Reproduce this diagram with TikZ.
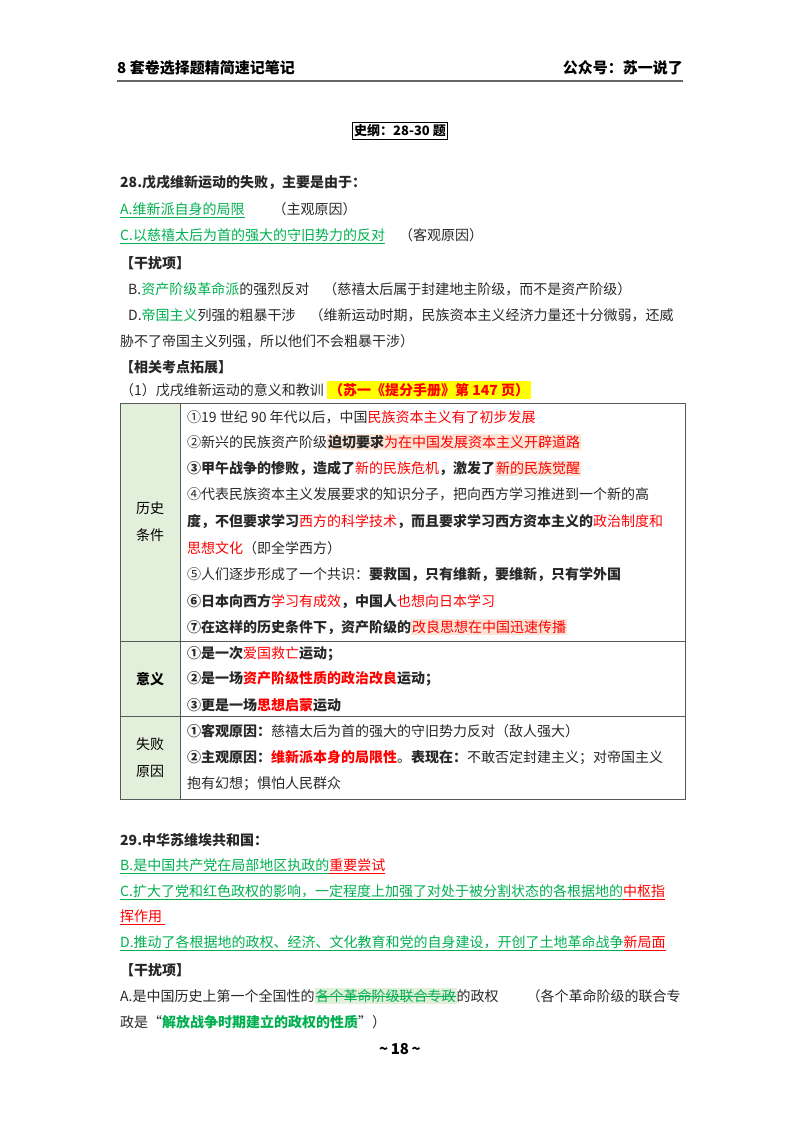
\documentclass[tikz,border=0pt]{standalone}
\usepackage{fontspec}
\setmainfont{Noto Sans CJK SC}
\newfontfamily\cjk{Noto Sans CJK SC}
\definecolor{gr}{RGB}{0,176,80}
\definecolor{rd}{RGB}{255,0,0}
\definecolor{hl}{RGB}{252,228,214}
\definecolor{lg}{RGB}{226,239,218}
\definecolor{yl}{RGB}{255,255,0}
\definecolor{tx}{RGB}{40,40,40}
\newsavebox\sbx
\newcommand\strk[1]{\sbox\sbx{#1}\rlap{\usebox\sbx}\rule[0.33em]{\wd\sbx}{0.6pt}}
\newcommand\hlt[1]{{\setlength\fboxsep{1pt}\colorbox{hl}{#1}}}
\newcommand\G[1]{\textcolor{gr}{#1}}
\newcommand\R[1]{\textcolor{rd}{#1}}
\newcommand\B[1]{{\bfseries #1}}
\begin{document}
\begin{tikzpicture}[x=1pt,y=-1pt,
  txt/.style={anchor=west,inner sep=0pt,text=tx,font=\cjk\fontsize{14}{16}\selectfont},
  hdr/.style={anchor=west,inner sep=0pt,font=\cjk\bfseries\fontsize{15}{18}\selectfont},
  cell/.style={anchor=center,inner sep=0pt,align=center,font=\cjk\fontsize{14}{27}\selectfont}]
\useasboundingbox[fill=white] (0,0) rectangle (800,1132);
% header
\node[hdr] (h1) at (117,68) {8 套卷选择题精简速记笔记};
\node[hdr,anchor=east] (h2) at (683,68) {公众号：苏一说了};
\draw[line width=1.2pt,gray!80!black] (117,81) -- (683,81);
\node[draw,line width=0.8pt,inner sep=2pt,font=\cjk\bfseries\fontsize{13}{16}\selectfont] (tt) at (400,131) {史纲：28-30 题};
% Q28
\node[txt] (a1) at (120,183) {\B{28.戊戌维新运动的失败，主要是由于：}};
\node[txt] (a2) at (120,210) {\G{\underline{A.维新派自身的局限}}\qquad（主观原因）};
\node[txt] (a3) at (120,236) {\G{\underline{C.以慈禧太后为首的强大的守旧势力的反对}}\quad（客观原因）};
\node[txt] (a4) at (120,263) {\B{【干扰项】}};
\node[txt] (a5) at (128,289) {B.\G{资产阶级革命派}的强烈反对\quad（慈禧太后属于封建地主阶级，而不是资产阶级）};
\node[txt] (a6) at (128,315) {D.\G{帝国主义}列强的粗暴干涉\quad（维新运动时期，民族资本主义经济力量还十分微弱，还威};
\node[txt] (a7) at (120,341) {胁不了帝国主义列强，所以他们不会粗暴干涉）};
\node[txt] (a8) at (120,367) {\B{【相关考点拓展】}};
\node[txt] (a9) at (120,390) {（1）戊戌维新运动的意义和教训\ {\setlength\fboxsep{2pt}\colorbox{yl}{\B{\R{（苏一《提分手册》第 147 页）}}}}};
% table
\fill[lg] (120,403) rectangle (180,799);
\draw[line width=0.8pt,gray!70!black] (120,403) rectangle (685,799);
\draw[line width=0.8pt,gray!70!black] (180,403) -- (180,799) (120,641) -- (685,641) (120,716) -- (685,716);
\node[cell] (c1) at (150,522) {历史\\条件};
\node[cell] (c2) at (150,679) {\B{意义}};
\node[cell] (c3) at (150,758) {失败\\原因};
\node[txt] (t1) at (187,417) {①19 世纪 90 年代以后，中国\R{民族资本主义有了初步发展}};
\node[txt] (t2) at (187,442) {②新兴的民族资产阶级\hlt{\B{迫切要求}\R{为在中国发展资本主义开辟道路}}};
\node[txt] (t3) at (187,468) {\B{③甲午战争的惨败，造成了}\R{新的民族危机}\B{，激发了}\hlt{\R{新的民族觉醒}}};
\node[txt] (t4) at (187,494) {④代表民族资本主义发展要求的知识分子，把向西方学习推进到一个新的高};
\node[txt] (t5) at (187,521) {\B{度，不但要求学习}\R{西方的科学技术}\B{，而且要求学习西方资本主义的}\R{政治制度和}};
\node[txt] (t6) at (187,548) {\R{思想文化}（即全学西方）};
\node[txt] (t7) at (187,575) {⑤人们逐步形成了一个共识：\B{要救国，只有维新，要维新，只有学外国}};
\node[txt] (t8) at (187,601) {\B{⑥日本向西方}\R{学习有成效}\B{，中国人}\R{也想向日本学习}};
\node[txt] (t9) at (187,627) {\B{⑦在这样的历史条件下，资产阶级的}\hlt{\R{改良思想在中国迅速传播}}};
\node[txt] (m1) at (187,654) {\B{①是一次}\R{爱国救亡}\B{运动；}};
\node[txt] (m2) at (187,679) {\B{②是一场}\R{\B{资产阶级性质的政治改良}}\B{运动；}};
\node[txt] (m3) at (187,705) {\B{③更是一场}\R{\B{思想启蒙}}\B{运动}};
\node[txt] (f1) at (187,731) {\B{①客观原因：}慈禧太后为首的强大的守旧势力反对（敌人强大）};
\node[txt] (f2) at (187,758) {\B{②主观原因：}\R{\B{维新派本身的局限性}}。\B{表现在：}不敢否定封建主义；对帝国主义};
\node[txt] (f3) at (187,784) {抱有幻想；惧怕人民群众};
% Q29
\node[txt] (b1) at (120,840) {\B{29.中华苏维埃共和国：}};
\node[txt] (b2) at (120,866) {\G{\underline{B.是中国共产党在局部地区执政的}}\R{\underline{重要尝试}}};
\node[txt] (b3) at (120,892) {\G{\underline{C.扩大了党和红色政权的影响，一定程度上加强了对处于被分割状态的各根据地的}}\R{\underline{中枢指}}};
\node[txt] (b4) at (120,917) {\R{\underline{挥作用\ }}};
\node[txt] (b5) at (120,943) {\G{\underline{D.推动了各根据地的政权、经济、文化教育和党的自身建设，开创了土地革命战争}}\R{\underline{新局面}}};
\node[txt] (b6) at (120,970) {\B{【干扰项】}};
\node[txt] (b7) at (120,996) {A.是中国历史上第一个全国性的{\setlength\fboxsep{1pt}\colorbox{lg}{\G{\strk{各个革命阶级联合专政}}}}的政权\qquad（各个革命阶级的联合专};
\node[txt] (b8) at (120,1022) {政是“\G{\B{解放战争时期建立的政权的性质}}”）};
\node[inner sep=0pt,font=\bfseries\fontsize{15}{18}\selectfont] (pg) at (400,1049) {\textasciitilde\,18\,\textasciitilde};
\end{tikzpicture}
\end{document}
